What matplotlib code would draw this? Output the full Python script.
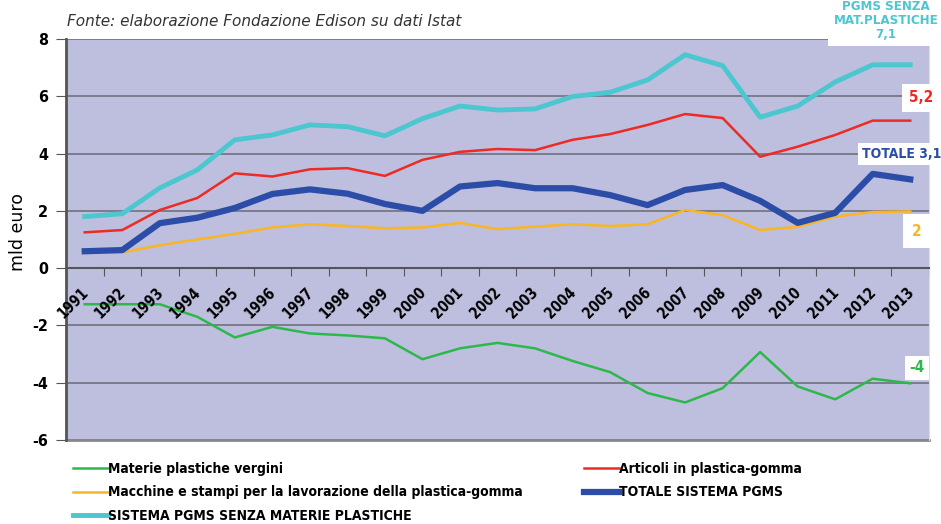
import numpy as np
import matplotlib
matplotlib.use("Agg")
from matplotlib import pyplot as plt
from matplotlib import font_manager

plt.rcParams["axes.unicode_minus"] = False

anni = [str(a) for a in range(1991, 2014)]

materie_vergini = [-1.26, -1.26, -1.26, -1.7, -2.42, -2.05, -2.28, -2.35, -2.45, -3.18, -2.8, -2.61,
                   -2.8, -3.24, -3.63, -4.36, -4.69, -4.19, -2.93, -4.13, -4.58, -3.86, -4.02]
articoli = [1.25, 1.33, 2.03, 2.45, 3.31, 3.2, 3.45, 3.49, 3.22, 3.78, 4.06, 4.16,
            4.12, 4.48, 4.68, 5.0, 5.38, 5.24, 3.89, 4.24, 4.65, 5.15, 5.15]
macchine = [0.59, 0.55, 0.8, 1.0, 1.2, 1.42, 1.53, 1.47, 1.39, 1.42, 1.58, 1.36,
            1.45, 1.53, 1.47, 1.53, 2.03, 1.85, 1.33, 1.44, 1.8, 1.96, 1.98]
totale = [0.59, 0.63, 1.57, 1.76, 2.1, 2.59, 2.75, 2.6, 2.24, 2.0, 2.85, 2.97,
          2.79, 2.79, 2.55, 2.2, 2.73, 2.9, 2.35, 1.58, 1.93, 3.29, 3.1]
senza_materie = [1.8, 1.9, 2.8, 3.43, 4.48, 4.65, 5.0, 4.94, 4.62, 5.22, 5.66, 5.52,
                 5.56, 5.99, 6.14, 6.57, 7.45, 7.07, 5.27, 5.66, 6.5, 7.1, 7.1]

nomi_sx = ["Materie plastiche vergini",
           "Macchine e stampi per la lavorazione della plastica-gomma",
           "SISTEMA PGMS SENZA MATERIE PLASTICHE"]
nomi_dx = ["Articoli in plastica-gomma",
           "TOTALE SISTEMA PGMS"]

verde = "#2DB84C"
rosso = "#EE2A24"
arancio = "#F8B622"
blu = "#2B4DA8"
ciano = "#4CC6CF"

# cerca un font stretto (tipo Calibri), altrimenti Liberation Sans
cond_fp = None
for f in font_manager.fontManager.ttflist:
    if f.stretch in ("condensed", "semi-condensed", "extra-condensed") or "Narrow" in f.name or "Condensed" in f.name:
        if f.weight in ("bold", 700, "semibold", 600):
            cond_fp = f
            break
if cond_fp is not None:
    cond = dict(fname=cond_fp.fname)
    scala = 1.0
else:
    cond = dict(family="Liberation Sans", weight="bold")
    scala = 0.8

def fp(size):
    return font_manager.FontProperties(size=size * scala, **cond)

fig = plt.figure(figsize=(9.41, 5.24), dpi=100)
ax = fig.add_axes([66/941, 1-440/524, (929-66)/941, (440-39)/524])
ax.set_facecolor("#BEBFDE")

x = np.arange(len(anni))
l1, = ax.plot(x, materie_vergini, color=verde, lw=1.8)
l2, = ax.plot(x, macchine, color=arancio, lw=1.8)
l5, = ax.plot(x, senza_materie, color=ciano, lw=3.5)
l3, = ax.plot(x, articoli, color=rosso, lw=1.8)
l4, = ax.plot(x, totale, color=blu, lw=4.5)

ax.set_xlim(-0.5, len(anni) - 0.5)
ax.set_ylim(-6, 8)
ax.set_yticks(range(-6, 9, 2))
ax.yaxis.grid(True, color="#70707E", lw=1.2)
ax.set_axisbelow(True)
ax.tick_params(axis="y", length=7, color="#555555", pad=6)
for t in ax.get_yticklabels():
    t.set_fontproperties(fp(11.5))

# asse x sullo zero
ax.spines["bottom"].set_position(("data", 0))
ax.spines["bottom"].set_color("#555555")
ax.spines["bottom"].set_linewidth(1.5)
ax.spines["left"].set_color("#555555")
ax.spines["left"].set_linewidth(2)
ax.spines["top"].set_visible(False)
ax.spines["right"].set_color("#DDDDDD")
ax.axhline(-6, color="#888888", lw=2, clip_on=False)

ax.set_xticks(np.append(x - 0.5, x[-1] + 0.5))
ax.set_xticklabels([])
ax.tick_params(axis="x", length=6, color="#555555", direction="out")
for i, a in enumerate(anni):
    ax.annotate(a, (i, 0), xytext=(-3, -12), textcoords="offset points",
                rotation=45, ha="right", va="top", fontproperties=fp(10.5),
                rotation_mode="anchor")

fig.text(18/941, 1-232/524, "mld euro", fontsize=12.5, rotation=90,
         ha="center", va="center")

fig.text(67/941, 1-22/524, "Fonte: elaborazione Fondazione Edison su dati Istat",
         fontstyle="italic", fontsize=11, va="center", color="#333333")

# etichette finali
box = dict(boxstyle="square,pad=0.3", fc="white", ec="none")
fig.text(886/941, 1-20/524, "PGMS SENZA\nMAT.PLASTICHE\n7,1", color=ciano,
         fontproperties=fp(9.5), ha="center", va="center", linespacing=1.1,
         bbox=dict(boxstyle="square,pad=0.45", fc="white", ec="none"))
fig.text(921/941, 1-98/524, "5,2", color=rosso, fontproperties=fp(11),
         ha="center", va="center",
         bbox=dict(boxstyle="square,pad=0.45", fc="white", ec="none"))
fig.text(902/941, 1-154/524, "TOTALE 3,1", color=blu, fontproperties=fp(10),
         ha="center", va="center", bbox=box)
fig.text(917/941, 1-231/524, "2", color=arancio, fontproperties=fp(11),
         ha="center", va="center",
         bbox=dict(boxstyle="square,pad=0.6", fc="white", ec="none"))
fig.text(917/941, 1-368/524, "-4", color=verde, fontproperties=fp(11),
         ha="center", va="center", bbox=box)

opts = dict(loc="upper left", frameon=False, handlelength=2.5, handletextpad=0.05,
            labelspacing=0.68, borderpad=0.0, borderaxespad=0.0, prop=fp(10))
fig.legend([l1, l2, l5], nomi_sx, bbox_to_anchor=(73/941, 1-462/524), **opts)
fig.legend([l3, l4], nomi_dx, bbox_to_anchor=(584/941, 1-462/524), **opts)

fig.savefig("out.png", dpi=100)
